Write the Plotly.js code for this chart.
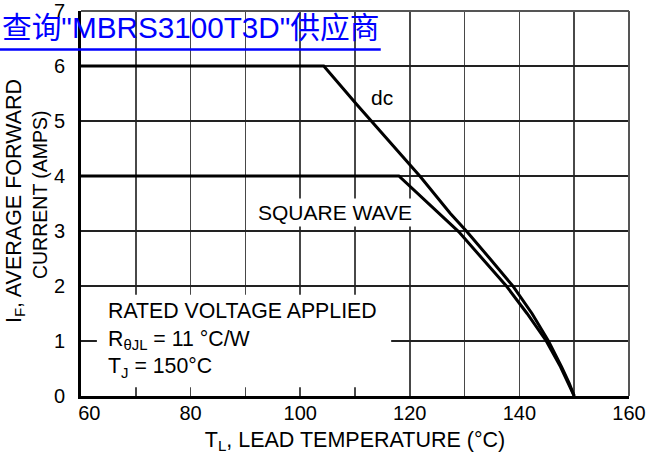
<!DOCTYPE html>
<html>
<head>
<meta charset="utf-8">
<script src="https://cdn.plot.ly/plotly-3.0.1.min.js"></script>
<style>html,body{margin:0;padding:0;background:#fff;} #chart{width:648px;height:460px;}</style>
</head>
<body>
<div id="chart"></div>
<script>
// Data
var dcTemp      = [60, 104.3, 110.4, 121.9, 127.4, 130.4, 134.6, 138.8, 142.3, 145.3, 147.7, 149.1, 150.0];
var dcCurrent   = [6,  6,     5.29,  3.99,  3.32,  2.99,  2.5,   2.0,   1.5,   1.0,   0.53,  0.23,  0];
var sqTemp      = [60, 118.0, 128.9, 137.7, 141.4, 144.9, 147.5, 149.0, 150.0];
var sqCurrent   = [4,  4,     2.99,  1.99,  1.5,   1.0,   0.53,  0.23,  0];
var xTickVals   = [60, 70, 80, 90, 100, 110, 120, 130, 140, 150, 160];
var xTickText   = ['\u00a0\u00a0\u00a060', '', '80', '', '100', '', '120', '', '140', '', '160'];
var yTickVals   = [0, 1, 2, 3, 4, 5, 6, 7];

var FONT = 'Arial, "Liberation Sans", Helvetica, sans-serif';
var TITLEFONT = 'Arial, "Liberation Sans", "Noto Sans CJK SC", sans-serif';

var traces = [
  {x: dcTemp, y: dcCurrent, mode: 'lines', name: 'dc',
   line: {color: '#000', width: 3}, hoverinfo: 'skip'},
  {x: sqTemp, y: sqCurrent, mode: 'lines', name: 'SQUARE WAVE',
   line: {color: '#000', width: 3}, hoverinfo: 'skip'}
];

var layout = {
  width: 648, height: 460,
  margin: {l: 81, r: 19, t: 11, b: 64},
  paper_bgcolor: '#fff', plot_bgcolor: '#fff',
  showlegend: false,
  font: {family: FONT, color: '#000', size: 20},
  xaxis: {
    range: [60, 160], tickvals: xTickVals, ticktext: xTickText,
    showgrid: true, gridcolor: '#484848', gridwidth: 1.5,
    showline: true, linecolor: '#000', linewidth: 3,
    zeroline: false, ticks: '', ticklabelstandoff: -3,
    tickfont: {size: 20, color: '#000'},
    title: {text: 'T<sub>L</sub>, LEAD TEMPERATURE (°C)', font: {size: 21.5, color: '#000'}, standoff: 9},
    automargin: false, fixedrange: true
  },
  yaxis: {
    range: [0, 7], tickvals: yTickVals,
    showgrid: true, gridcolor: '#222', gridwidth: 1.3,
    showline: true, linecolor: '#000', linewidth: 3,
    zeroline: false, ticks: '', ticklabelstandoff: 9,
    tickfont: {size: 20, color: '#000'},
    automargin: false, fixedrange: true
  },
  shapes: [
    // top & right frame
    {type: 'line', xref: 'paper', yref: 'paper', x0: 0, x1: 1, y0: 1, y1: 1, line: {color: '#555', width: 2}},
    {type: 'line', xref: 'paper', yref: 'paper', x0: 1, x1: 1, y0: 0, y1: 1, line: {color: '#555', width: 2}},
    // white panel behind the rating notes
    {type: 'rect', xref: 'x', yref: 'y', x0: 62.9, x1: 116.6, y0: 0.16, y1: 1.84,
     fillcolor: '#fff', line: {width: 0}, layer: 'above'},
    // link underline
    {type: 'line', xref: 'paper', yref: 'paper', x0: -0.148, x1: 0.547, y0: 0.9, y1: 0.9,
     line: {color: '#0000ff', width: 2.5}}
  ],
  annotations: [
    {text: 'dc', xref: 'x', yref: 'y', x: 114.9, y: 5.42, showarrow: false,
     font: {size: 21, color: '#000'}, bgcolor: '#fff'},
    {text: 'SQUARE WAVE', xref: 'x', yref: 'y', x: 106.3, y: 3.33, showarrow: false,
     font: {size: 21, color: '#000'}, bgcolor: '#fff', borderpad: 2},
    {text: 'RATED VOLTAGE APPLIED<br>R<sub>θJL</sub> = 11 °C/W<br>T<sub>J</sub> = 150°C',
     xref: 'x', yref: 'y', x: 64.5, y: 1.02, xanchor: 'left', yanchor: 'middle', align: 'left',
     showarrow: false, font: {size: 21.3, color: '#000'}},
    {text: 'I<sub>F</sub>, AVERAGE FORWARD', xref: 'paper', yref: 'paper',
     x: -0.1195, y: 0.505, xanchor: 'center', yanchor: 'middle', textangle: -90, showarrow: false,
     font: {size: 21.5, color: '#000'}},
    {text: 'CURRENT (AMPS)', xref: 'paper', yref: 'paper',
     x: -0.0748, y: 0.522, xanchor: 'center', yanchor: 'middle', textangle: -90, showarrow: false,
     font: {size: 19.5, color: '#000'}},
    {text: '查询"MBRS3100T3D"供应商', xref: 'paper', yref: 'paper',
     x: -0.148, y: 0.958, xanchor: 'left', yanchor: 'middle', showarrow: false,
     font: {family: TITLEFONT, size: 29.7, color: '#0000ff'}}
  ]
};

Plotly.newPlot('chart', traces, layout, {staticPlot: true, displayModeBar: false});
</script>
</body>
</html>
